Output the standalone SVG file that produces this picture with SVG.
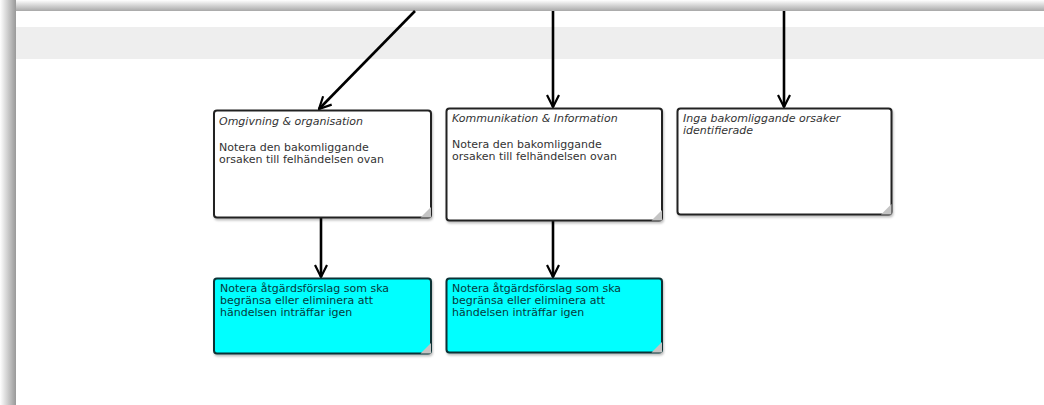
<svg xmlns="http://www.w3.org/2000/svg" width="1044" height="405" viewBox="0 0 1044 405">
<defs>
<linearGradient id="gTop" x1="0" y1="0" x2="0" y2="1">
<stop offset="0" stop-color="#ffffff"/>
<stop offset="1" stop-color="#a8a8a8"/>
</linearGradient>
<linearGradient id="gLeft" x1="0" y1="0" x2="1" y2="0">
<stop offset="0" stop-color="#ffffff"/>
<stop offset="1" stop-color="#999999"/>
</linearGradient>
<marker id="arr" viewBox="0 0 14 14" refX="13" refY="7" markerWidth="14" markerHeight="14" markerUnits="userSpaceOnUse" orient="auto">
<path d="M1,1 L13,7 L1,13" fill="none" stroke="#000" stroke-width="2.2"/>
</marker>
<filter id="sh" x="-5%" y="-5%" width="115%" height="120%">
<feDropShadow dx="1" dy="2" stdDeviation="1.2" flood-color="#000" flood-opacity="0.25"/>
</filter>
</defs>
<style>
.box{fill:#ffffff;stroke:#222222;stroke-width:2}
.cyan{fill:#00ffff;stroke:#0b3336;stroke-width:2}
.fold{fill:#c4c4c4}
.t{font-family:"DejaVu Sans",Verdana,sans-serif;font-size:11px;fill:#333333}
.ti{font-style:italic}
.tc{font-family:"DejaVu Sans",Verdana,sans-serif;font-size:11px;fill:#073a3c}
.conn{fill:none;stroke:#000;stroke-width:2.6;marker-end:url(#arr)}
</style>
<rect x="0" y="0" width="1044" height="405" fill="#ffffff"/>
<rect x="0" y="0" width="1044" height="11" fill="url(#gTop)"/>
<rect x="0" y="0" width="16" height="405" fill="url(#gLeft)"/>
<rect x="16" y="11" width="1028" height="394" fill="#ffffff"/>
<rect x="16" y="27" width="1028" height="32" fill="#eeeeee"/>

<g id="connectors">
<line class="conn" x1="415" y1="11" x2="319" y2="109"/>
<line class="conn" x1="553" y1="11" x2="553" y2="107"/>
<line class="conn" x1="784" y1="11" x2="784" y2="107"/>
<line class="conn" x1="321" y1="218" x2="321" y2="277"/>
<line class="conn" x1="553" y1="221" x2="553" y2="277"/>
</g>

<g id="node1">
<rect class="box" x="214" y="110.5" width="217" height="107" rx="3" filter="url(#sh)"/>
<path class="fold" d="M431,207 L431,217.5 L420.5,217.5 Z"/>
<text class="t ti" x="219" y="125">Omgivning &amp; organisation</text>
<text class="t" x="219" y="151">Notera den bakomliggande</text>
<text class="t" x="219" y="163">orsaken till felhändelsen ovan</text>
</g>

<g id="node2">
<rect class="box" x="446.5" y="108.5" width="215.5" height="112" rx="3" filter="url(#sh)"/>
<path class="fold" d="M662,210 L662,220.5 L651.5,220.5 Z"/>
<text class="t ti" x="452" y="122">Kommunikation &amp; Information</text>
<text class="t" x="452" y="148">Notera den bakomliggande</text>
<text class="t" x="452" y="160">orsaken till felhändelsen ovan</text>
</g>

<g id="node3">
<rect class="box" x="677.5" y="108.5" width="214" height="106" rx="3" filter="url(#sh)"/>
<path class="fold" d="M891.5,204 L891.5,214.5 L881,214.5 Z"/>
<text class="t ti" x="683" y="122">Inga bakomliggande orsaker</text>
<text class="t ti" x="683" y="134">identifierade</text>
</g>

<g id="node4">
<rect class="cyan" x="214" y="278.5" width="217" height="75" rx="3" filter="url(#sh)"/>
<path class="fold" d="M431,343 L431,353.5 L420.5,353.5 Z"/>
<text class="tc" x="220" y="292">Notera åtgärdsförslag som ska</text>
<text class="tc" x="220" y="304">begränsa eller eliminera att</text>
<text class="tc" x="220" y="316">händelsen inträffar igen</text>
</g>

<g id="node5">
<rect class="cyan" x="446.5" y="278.5" width="215.5" height="74" rx="3" filter="url(#sh)"/>
<path class="fold" d="M662,342 L662,352.5 L651.5,352.5 Z"/>
<text class="tc" x="452" y="292">Notera åtgärdsförslag som ska</text>
<text class="tc" x="452" y="304">begränsa eller eliminera att</text>
<text class="tc" x="452" y="316">händelsen inträffar igen</text>
</g>
</svg>
